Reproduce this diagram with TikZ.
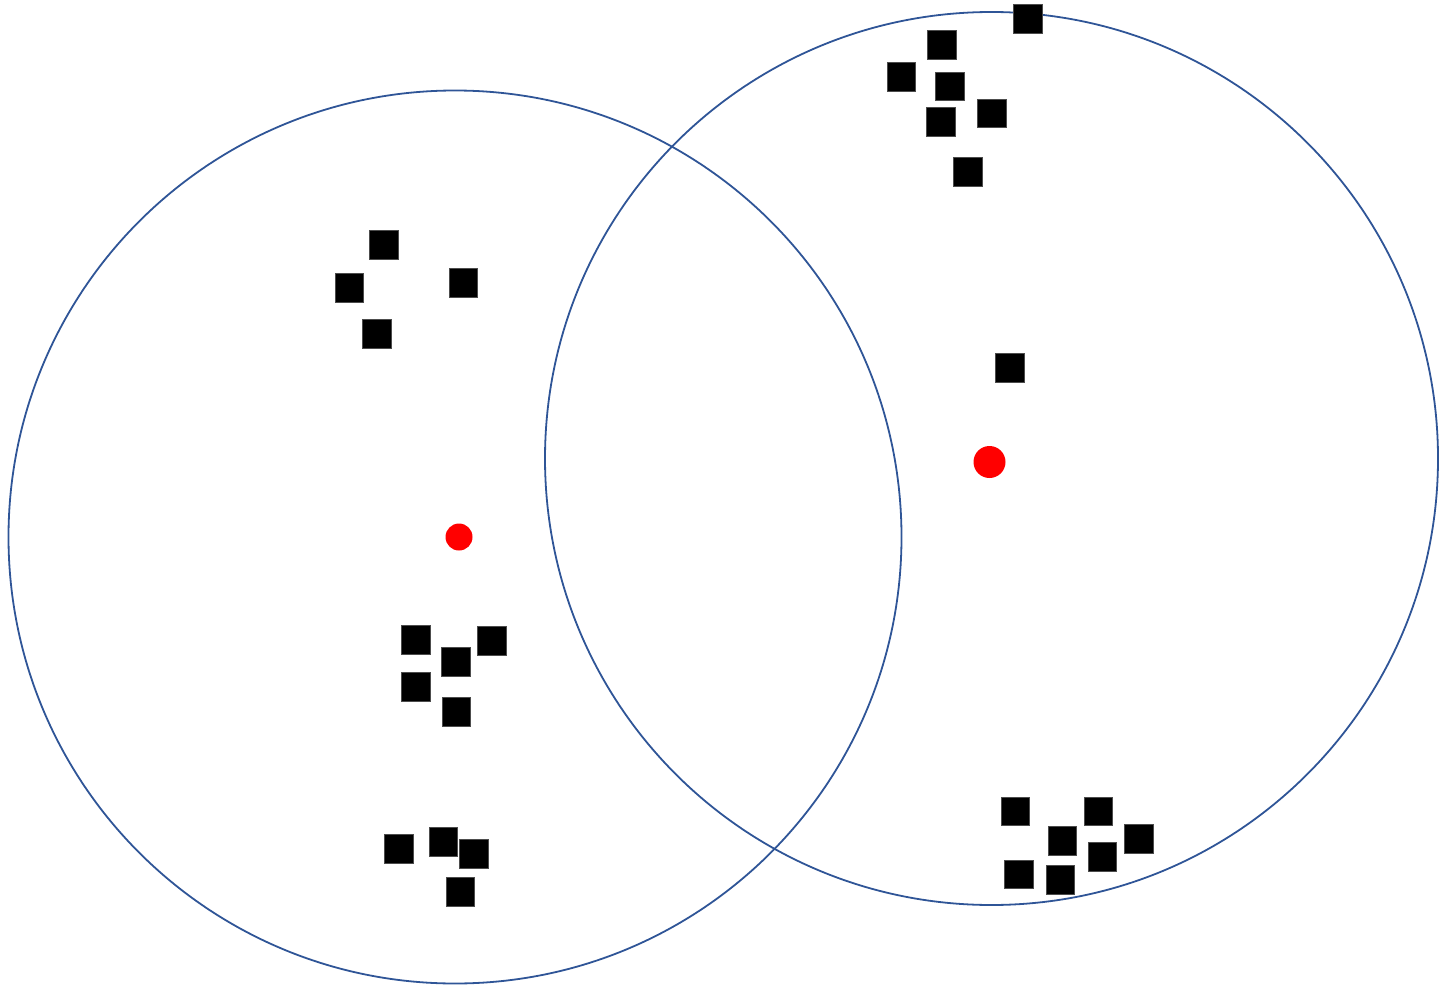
\documentclass[tikz,border=0pt]{standalone}
\definecolor{ringblue}{HTML}{2F5597}
\definecolor{dotred}{HTML}{FF0000}
\begin{document}
\begin{tikzpicture}[x=1pt,y=-1pt,
  ring/.style={circle,draw=ringblue,line width=1.8pt,inner sep=0pt,minimum size=893pt},
  sq/.style={rectangle,fill=black,draw=black!70,line width=0.5pt,inner sep=0pt,minimum size=28.5pt},
  ctr/.style={circle,fill=dotred,inner sep=0pt}]
\useasboundingbox (0,0) rectangle (1445,987);
\node[ring] (L) at (455,537) {};
\node[ring] (R) at (991.5,458.5) {};
\node[ctr,minimum size=27pt] (cL) at (459,537) {};
\node[ctr,minimum size=32pt] (cR) at (989.5,462) {};
% right top cluster
\node[sq] (r1) at (1027.5,19) {};
\node[sq] (r2) at (941.5,45) {};
\node[sq] (r3) at (901,77) {};
\node[sq] (r4) at (949.7,86.3) {};
\node[sq] (r5) at (991.7,113.3) {};
\node[sq] (r6) at (940.7,122) {};
\node[sq] (r7) at (967.5,172) {};
% right middle
\node[sq] (r8) at (1009.8,367.7) {};
% right bottom cluster
\node[sq] (b1) at (1015,811) {};
\node[sq] (b2) at (1098,811) {};
\node[sq] (b3) at (1062,840.7) {};
\node[sq] (b4) at (1138.8,838.7) {};
\node[sq] (b5) at (1102.3,856.7) {};
\node[sq] (b6) at (1018.7,874.3) {};
\node[sq] (b7) at (1060,879.7) {};
% left top cluster
\node[sq] (l1) at (383.8,244.7) {};
\node[sq] (l2) at (349,287.8) {};
\node[sq] (l3) at (463.3,282.8) {};
\node[sq] (l4) at (376.7,333.7) {};
% left middle cluster
\node[sq] (m1) at (415.7,639.8) {};
\node[sq] (m2) at (491.7,640.7) {};
\node[sq] (m3) at (455.5,661.7) {};
\node[sq] (m4) at (415.7,686.7) {};
\node[sq] (m5) at (456.3,711.7) {};
% left bottom cluster
\node[sq] (n1) at (398.5,848.5) {};
\node[sq] (n2) at (443.3,841.7) {};
\node[sq] (n3) at (473.7,853.5) {};
\node[sq] (n4) at (460,891.7) {};
\end{tikzpicture}
\end{document}
